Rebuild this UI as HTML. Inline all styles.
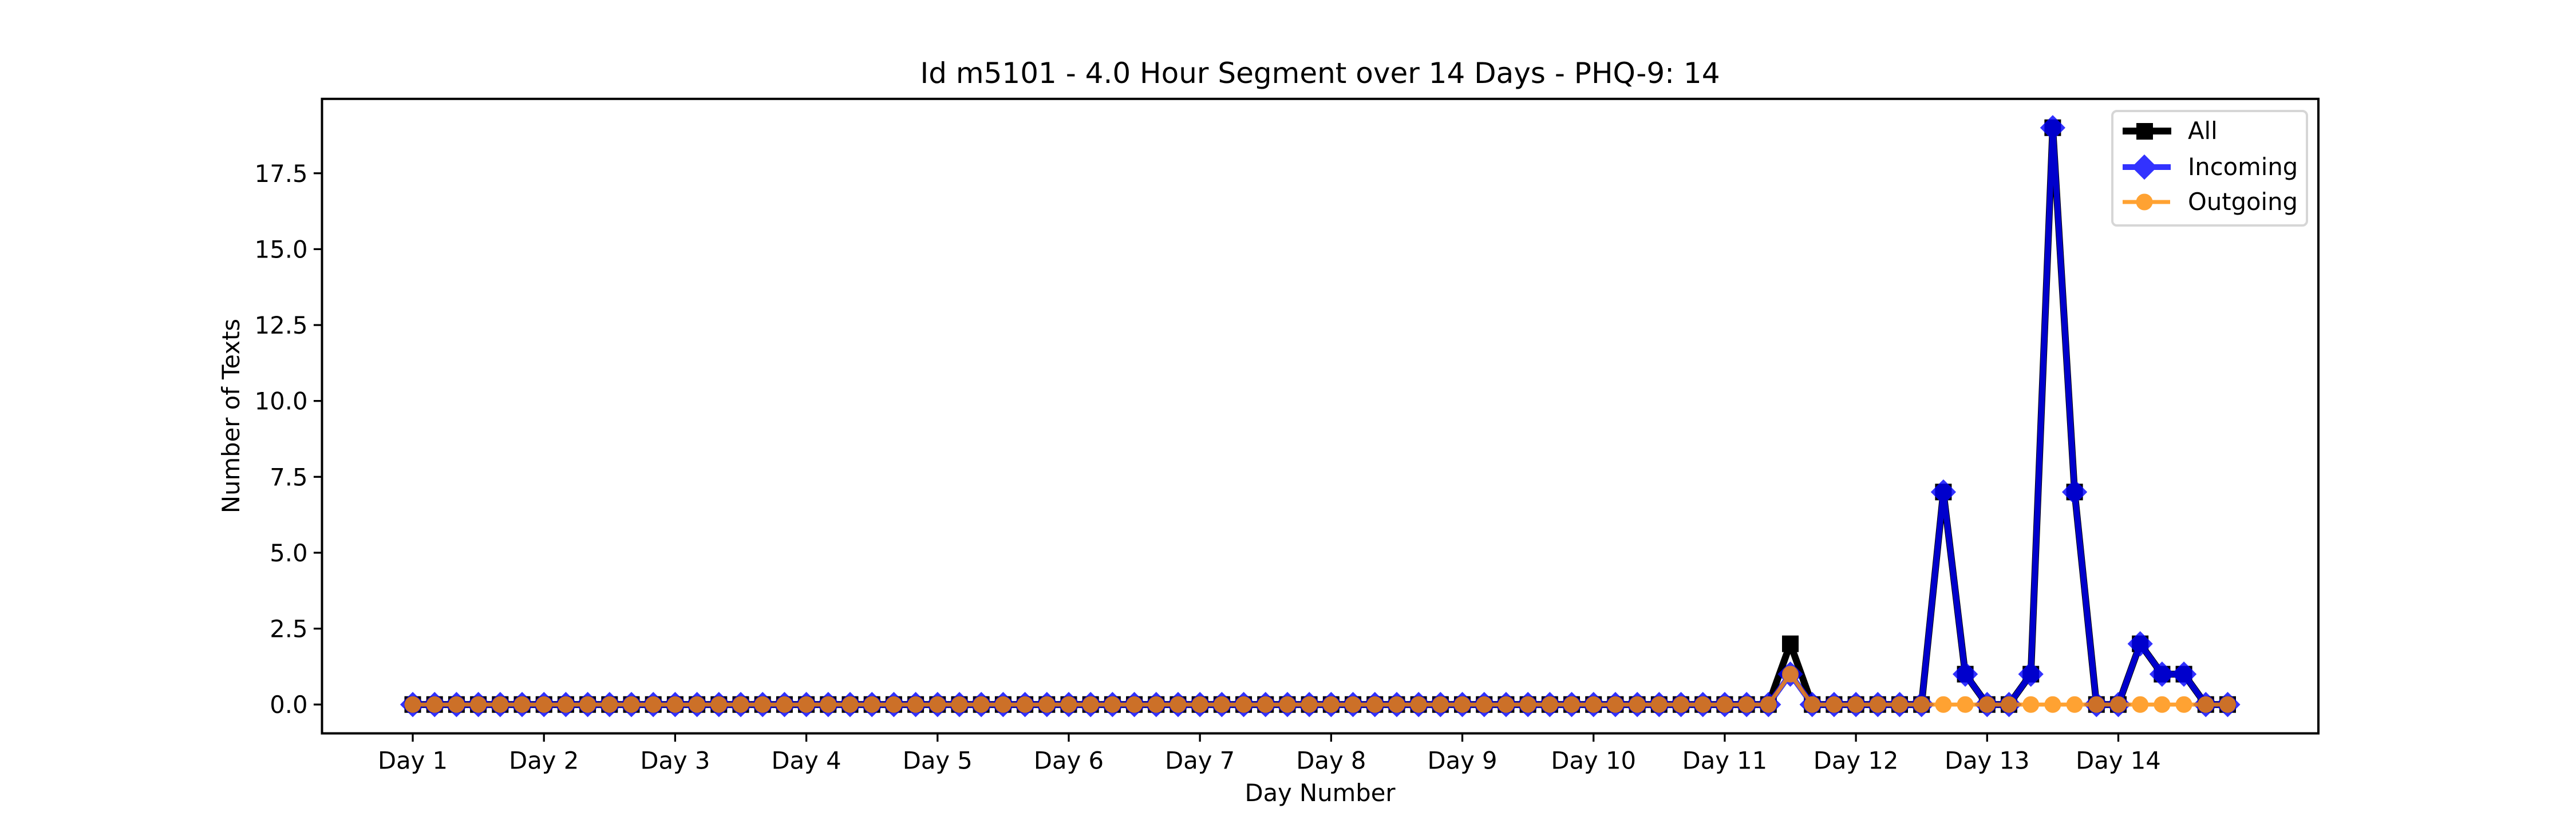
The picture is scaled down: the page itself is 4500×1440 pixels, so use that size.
<!DOCTYPE html>
<html><head><meta charset="utf-8"><style>
html,body{margin:0;padding:0;background:#fff;}
svg{display:block;}
text{font-family:"DejaVu Sans","Liberation Sans",sans-serif;fill:#000;}
</style></head>
<body>
<svg id="chart" width="4500" height="1440" viewBox="0 0 4500 1440" xmlns="http://www.w3.org/2000/svg">
<rect width="4500" height="1440" fill="#fff"/>
<text x="2306" y="145" font-size="50" text-anchor="middle">Id m5101 - 4.0 Hour Segment over 14 Days - PHQ-9: 14</text>
<g id="grid"></g>
<g id="series"></g>
<rect x="562.5" y="172.8" width="3487.5" height="1108.8" fill="none" stroke="#000" stroke-width="4"/>
<g id="xticks"></g>
<g id="yticks"></g>
<text x="2306" y="1400" font-size="41.7" text-anchor="middle">Day Number</text>
<text transform="translate(418,727) rotate(-90)" font-size="41.7" text-anchor="middle">Number of Texts</text>
<g>
<rect x="3690" y="194" width="340" height="200" rx="8" fill="#fff" fill-opacity="0.8" stroke="#d6d6d6" stroke-width="4"/>
<g>
<line x1="3708" y1="229" x2="3793" y2="229" stroke="#000" stroke-width="12"/>
<rect x="3732" y="215" width="29" height="29" fill="#000"/>
<text x="3822" y="243" font-size="41.7">All</text></g>
<g opacity="0.8">
<line x1="3708" y1="292" x2="3792" y2="292" stroke="#0000ff" stroke-width="10"/>
<path d="M3746,272 L3766,292 L3746,312 L3726,292 Z" fill="#0000ff" stroke="#0000ff" stroke-width="3"/>
</g>
<text x="3822" y="306" font-size="41.7">Incoming</text>
<g opacity="0.8">
<line x1="3708" y1="353" x2="3791" y2="353" stroke="#ff8c00" stroke-width="7"/>
<circle cx="3746" cy="353" r="13" fill="#ff8c00" stroke="#ff8c00" stroke-width="3"/>
</g>
<text x="3822" y="367" font-size="41.7">Outgoing</text>
</g>
</svg>
<script>
const dayLabels = ["Day 1","Day 2","Day 3","Day 4","Day 5","Day 6","Day 7","Day 8","Day 9","Day 10","Day 11","Day 12","Day 13","Day 14"];
const yTickValues = [0, 2.5, 5, 7.5, 10, 12.5, 15, 17.5];
const yTickLabels = ["0.0","2.5","5.0","7.5","10.0","12.5","15.0","17.5"];
const allValues = [0,0,0,0,0,0, 0,0,0,0,0,0, 0,0,0,0,0,0, 0,0,0,0,0,0, 0,0,0,0,0,0, 0,0,0,0,0,0, 0,0,0,0,0,0, 0,0,0,0,0,0, 0,0,0,0,0,0, 0,0,0,0,0,0, 0,0,0,2,0,0, 0,0,0,0,7,1, 0,0,1,19,7,0, 0,2,1,1,0,0];
const incomingValues = [0,0,0,0,0,0, 0,0,0,0,0,0, 0,0,0,0,0,0, 0,0,0,0,0,0, 0,0,0,0,0,0, 0,0,0,0,0,0, 0,0,0,0,0,0, 0,0,0,0,0,0, 0,0,0,0,0,0, 0,0,0,0,0,0, 0,0,0,1,0,0, 0,0,0,0,7,1, 0,0,1,19,7,0, 0,2,1,1,0,0];
const outgoingValues = [0,0,0,0,0,0, 0,0,0,0,0,0, 0,0,0,0,0,0, 0,0,0,0,0,0, 0,0,0,0,0,0, 0,0,0,0,0,0, 0,0,0,0,0,0, 0,0,0,0,0,0, 0,0,0,0,0,0, 0,0,0,0,0,0, 0,0,0,1,0,0, 0,0,0,0,0,0, 0,0,0,0,0,0, 0,0,0,0,0,0];
const segmentsPerDay = 6;

const NS = "http://www.w3.org/2000/svg";
const L = 562.5, R = 4050, T = 172.8, B = 1281.6;
const n = allValues.length;
const maxV = Math.max(...allValues, ...incomingValues, ...outgoingValues);
const xPad = (n - 1) * 0.05, yPad = maxV * 0.05;
const xMin = -xPad, xMax = n - 1 + xPad, yMin = -yPad, yMax = maxV + yPad;
function xs(i){ return L + (i - xMin) / (xMax - xMin) * (R - L); }
function ys(v){ return B - (v - yMin) / (yMax - yMin) * (B - T); }
function mk(tag, attrs, parent){ const e = document.createElementNS(NS, tag); for (const k in attrs) e.setAttribute(k, attrs[k]); parent.appendChild(e); return e; }

const xt = document.getElementById('xticks');
dayLabels.forEach((lab, d) => {
  const x = xs(d * segmentsPerDay);
  const t = mk('line', {x1:x, y1:B, x2:x, y2:B+14.6, stroke:'#000', 'stroke-width':3.3}, xt);
  
  
  const tx = mk('text', {x:x, y:B+62, 'font-size':41.7, 'text-anchor':'middle'}, xt);
  tx.textContent = lab;
  
  
});
const yt = document.getElementById('yticks');
yTickValues.forEach((v, i) => {
  const y = ys(v);
  const t = mk('line', {x1:L-14.6, y1:y, x2:L, y2:y, stroke:'#000', 'stroke-width':3.3}, yt);
  
  
  const tx = mk('text', {x:L-25, y:y+15, 'font-size':41.7, 'text-anchor':'end'}, yt);
  tx.textContent = yTickLabels[i];
  
  
});

const sg = document.getElementById('series');
function drawSeries(vals, name, color, lw, marker, opacity){
  const g = mk('g', {opacity: opacity}, sg);
  
  
  const pts = vals.map((v, i) => xs(i).toFixed(1) + ',' + ys(v).toFixed(1)).join(' ');
  const pl = mk('polyline', {points: pts, fill:'none', stroke:color, 'stroke-width':lw, 'stroke-linejoin':'round'}, g);
  
  
  vals.forEach((v, i) => {
    const x = xs(i), y = ys(v);
    let m;
    if (marker === 'square') m = mk('rect', {x:x-14.5, y:y-14.5, width:29, height:29, fill:color}, g);
    else if (marker === 'diamond') m = mk('path', {d:`M${x},${y-20} L${x+20},${y} L${x},${y+20} L${x-20},${y} Z`, fill:color, stroke:color, 'stroke-width':3}, g);
    else m = mk('circle', {cx:x, cy:y, r:13, fill:color, stroke:color, 'stroke-width':3}, g);
    
    
  });
}
drawSeries(allValues, 'all', '#000000', 12, 'square', 1);
drawSeries(incomingValues, 'incoming', '#0000ff', 10, 'diamond', 0.8);
drawSeries(outgoingValues, 'outgoing', '#ff8c00', 7, 'circle', 0.8);
</script>
</body></html>
